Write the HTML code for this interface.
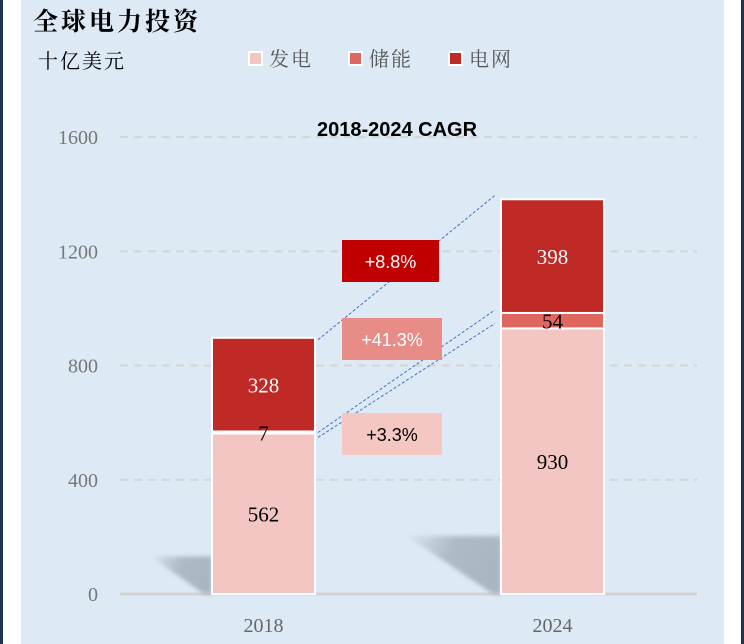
<!DOCTYPE html>
<html><head><meta charset="utf-8"><style>
html,body{margin:0;padding:0;width:744px;height:644px;overflow:hidden;background:#fff;}
svg{display:block}
</style></head><body>
<svg width="744" height="644" xmlns="http://www.w3.org/2000/svg">
<defs>
<linearGradient id="sh" x1="0" y1="0" x2="1" y2="0.3"><stop offset="0" stop-color="#aab8c4" stop-opacity="0.1"/><stop offset="0.5" stop-color="#a9b6c2" stop-opacity="0.9"/><stop offset="1" stop-color="#a9b6c2" stop-opacity="1"/></linearGradient>
<filter id="bl"><feGaussianBlur stdDeviation="2"/></filter>
</defs>
<rect x="0" y="0" width="3" height="644" fill="#1f3050"/>
<rect x="741" y="0" width="3" height="644" fill="#1f3050"/>
<rect x="21" y="0" width="703" height="644" fill="#dde9f5"/>
<text x="33" y="30" font-family="'Liberation Serif','Noto Serif CJK SC',serif" font-size="25" font-weight="bold" fill="#000" letter-spacing="3">全球电力投资</text>
<text x="38" y="68" font-family="'Liberation Serif','Noto Serif CJK SC',serif" font-size="20" fill="#000" letter-spacing="2">十亿美元</text>
<g id="legend"></g>
<text x="397" y="136" text-anchor="middle" font-family="'Liberation Sans',sans-serif" font-size="20" font-weight="bold" fill="#000">2018-2024 CAGR</text>
<g id="grid"></g>
<g id="shadows"></g>
<g id="bars"></g>
<g id="labels"></g>
<g id="cagr"></g>
</svg>
<script>
const years = ['2018','2024'];
const seriesNames = ['发电','储能','电网'];
const generation = [562, 930];
const storage = [7, 54];
const grid = [328, 398];
const yTicks = [0,400,800,1200,1600];
const cagrLabels = ['+3.3%','+41.3%','+8.8%'];

const NS='http://www.w3.org/2000/svg';
const colors=['#f4c6c3','#e06660','#c02a26'];
const y0=594, yTop=137, vMax=1600;
const yS=v=>y0-(y0-yTop)*v/vMax;
const barX=[212,501], barW=103;
function mk(tag,attrs,parent){const e=document.createElementNS(NS,tag);for(const k in attrs)e.setAttribute(k,attrs[k]);parent.appendChild(e);return e;}
// legend
const lg=document.getElementById('legend');
const lx=[249,349,449];
seriesNames.forEach((n,i)=>{
  const r=mk('rect',{x:lx[i],y:52,width:13,height:13,fill:colors[i],stroke:'#fff','stroke-width':2},lg);
  
  
  const t=mk('text',{x:lx[i]+20,y:66,'font-family':"'Liberation Serif','Noto Serif CJK SC',serif",'font-size':20,fill:'#555','letter-spacing':2},lg);
  t.textContent=n;
  
  
});
// grid
const gg=document.getElementById('grid');
yTicks.forEach(v=>{
  const y=yS(v);
  if(v>0){const l=mk('line',{x1:120,x2:697,y1:y,y2:y,stroke:'#d5d5d5','stroke-width':2,'stroke-dasharray':'8,6'},gg);
  
  }
  const t=mk('text',{x:98,y:y+7,'text-anchor':'end','font-family':"'Liberation Serif',serif",'font-size':20,fill:'#777'},gg);
  t.textContent=v;
  
  
});
const ax=mk('line',{x1:120,x2:697,y1:y0,y2:y0,stroke:'#d3d3d3','stroke-width':3},gg);


// shadows
const sg=document.getElementById('shadows');
barX.forEach((x,i)=>{
  const tot=generation[i]+storage[i]+grid[i];
  const h=tot*0.042, w=tot*0.068;
  const p=mk('polygon',{points:`${x-w},${y0-h} ${x},${y0-h} ${x},${y0} ${x-8},${y0}`,fill:'url(#sh)',filter:'url(#bl)'},sg);
  
  
});
// bars
const bg=document.getElementById('bars');
const lb=document.getElementById('labels');
const series=[generation,storage,grid];
const txtCol=['#000','#000','#fff'];
years.forEach((yr,i)=>{
  let cum=0;
  series.forEach((s,j)=>{
    const a=yS(cum), b=yS(cum+s[i]);
    const r=mk('rect',{x:barX[i],y:b,width:barW,height:a-b,fill:colors[j],stroke:'#fff','stroke-width':2},bg);
    
    
    const t=mk('text',{x:barX[i]+barW/2,y:(a+b)/2+8,'text-anchor':'middle','font-family':"'Liberation Serif',serif",'font-size':21,fill:txtCol[j]},lb);
    t.textContent=s[i];
    
    
    cum+=s[i];
  });
  const xt=mk('text',{x:barX[i]+barW/2,y:632,'text-anchor':'middle','font-family':"'Liberation Serif',serif",'font-size':20,fill:'#666'},lb);
  xt.textContent=yr;
  
  
});
// connector lines
const cg=document.getElementById('cagr');
const tops=[[generation[0],generation[1]],[generation[0]+storage[0],generation[1]+storage[1]],[generation[0]+storage[0]+grid[0],generation[1]+storage[1]+grid[1]]];
const offs=[[4,-5],[1,-3],[2,-4]];
tops.forEach((t,j)=>{
  const l=mk('line',{x1:barX[0]+barW+3,y1:yS(t[0])+offs[j][0],x2:barX[1]-6,y2:yS(t[1])+offs[j][1],stroke:'#4472c4','stroke-width':1,'stroke-dasharray':'3,2'},cg);
  
  
});
const boxes=[{y:413,w:100,fill:'#f4c7c3',tc:'#000'},{y:318,w:100,fill:'#e88c87',tc:'#fff'},{y:240,w:97,fill:'#c00000',tc:'#fff'}];
boxes.forEach((b,j)=>{
  const r=mk('rect',{x:342,y:b.y,width:b.w,height:42,fill:b.fill},cg);
  
  
  const t=mk('text',{x:342+b.w/2,y:b.y+28,'text-anchor':'middle','font-family':"'Liberation Sans',sans-serif",'font-size':18,fill:b.tc},cg);
  t.textContent=cagrLabels[j];
  
  
});
</script>
</body></html>
